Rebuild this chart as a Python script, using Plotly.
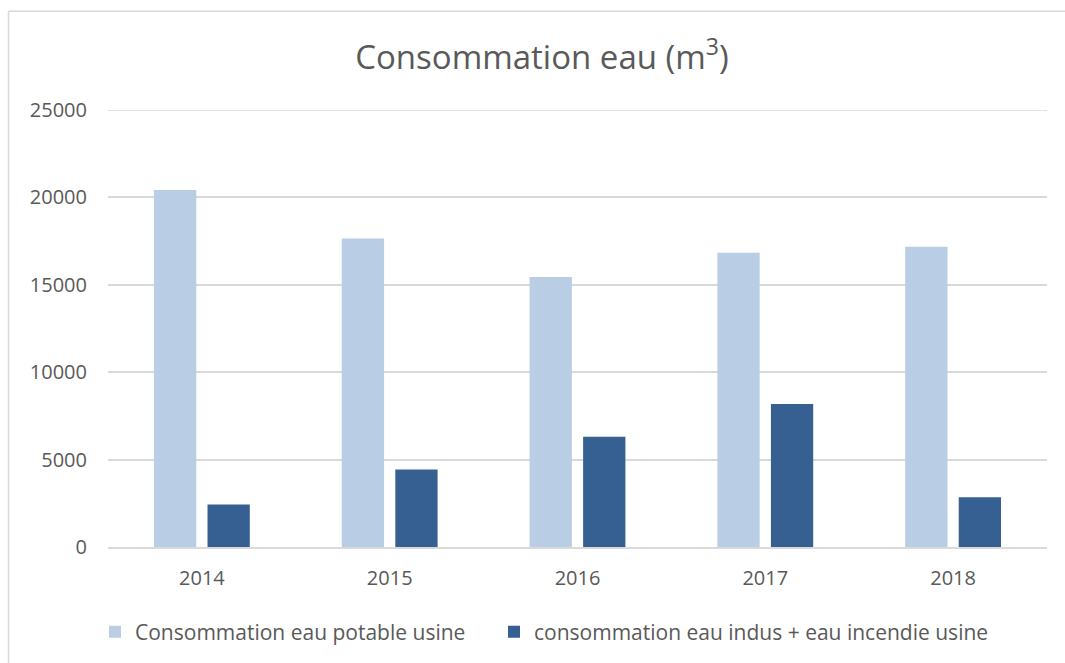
import plotly.graph_objects as go

# Annual water consumption (m3)
years = ["2014", "2015", "2016", "2017", "2018"]
potable = [20430, 17650, 15440, 16830, 17170]
indus_incendie = [2430, 4430, 6310, 8180, 2850]

series_names = [
    "Consommation eau potable usine",
    "consommation eau indus + eau incendie usine",
]
y_ticks = [0, 5000, 10000, 15000, 20000, 25000]
y_tick_labels = ["0", "5000", "10000", "15000", "20000", "25000"]

W, H = 1065, 663
L, R, T, B = 108, 18, 110, 115
TEXT = "#595959"
GRID = "#d9d9d9"
FONT = "Open Sans"

fig = go.Figure()
fig.add_trace(go.Bar(x=years, y=potable, name=series_names[0], legend="legend",
                     marker=dict(color="#B9CDE5", line=dict(width=0))))
fig.add_trace(go.Bar(x=years, y=indus_incendie, name=series_names[1], legend="legend2",
                     marker=dict(color="#366092", line=dict(width=0))))

pw, ph = W - L - R, H - T - B


def px_x(p):
    return (p - L) / pw


def px_y(p):
    return (H - B - p) / ph


legend_style = dict(orientation="h", xanchor="left", y=px_y(632), yanchor="middle",
                    font=dict(family=FONT, size=21, color=TEXT), itemwidth=30,
                    bgcolor="rgba(0,0,0,0)")

fig.update_layout(
    width=W, height=H,
    margin=dict(l=L, r=R, t=T, b=B),
    paper_bgcolor="white", plot_bgcolor="white",
    barmode="group", bargap=0.43, bargroupgap=0.21,
    font=dict(family=FONT, color=TEXT, size=20),
    title=dict(text="Consommation eau (m<sup>3</sup>)", x=542 / W, xanchor="center",
               y=1 - 57 / H, yanchor="middle",
               font=dict(family=FONT, size=33, color=TEXT)),
    showlegend=True,
    legend=dict(x=px_x(95), **legend_style),
    legend2=dict(x=px_x(494), **legend_style),
    xaxis=dict(showgrid=False, showline=True, linecolor=GRID, linewidth=1.5,
               ticks="", ticklabelstandoff=12,
               tickfont=dict(family=FONT, size=20, color=TEXT)),
    yaxis=dict(range=[0, 25000], tickvals=y_ticks, ticktext=y_tick_labels,
               showgrid=True, gridcolor=GRID, gridwidth=1.5, zeroline=False,
               showline=False, ticks="", ticklabelstandoff=20,
               tickfont=dict(family=FONT, size=20, color=TEXT)),
    shapes=[
        # top gridline at the axis maximum
        dict(type="line", xref="paper", yref="y", x0=0, x1=1,
             y0=y_ticks[-1], y1=y_ticks[-1], line=dict(color=GRID, width=1.5)),
        # chart frame (top and left edges)
        dict(type="line", xref="paper", yref="paper",
             x0=px_x(8.5), x1=px_x(W + 5), y0=px_y(11), y1=px_y(11),
             line=dict(color=GRID, width=1.5)),
        dict(type="line", xref="paper", yref="paper",
             x0=px_x(8.5), x1=px_x(8.5), y0=px_y(11), y1=px_y(H + 5),
             line=dict(color=GRID, width=1.5)),
    ],
)

fig.write_html("out.html")
